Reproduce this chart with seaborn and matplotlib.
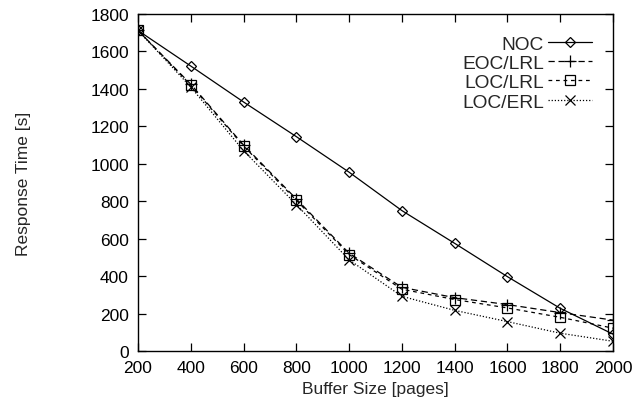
import matplotlib
matplotlib.use("Agg")
import matplotlib.pyplot as plt
import seaborn as sns
import pandas as pd

buffer_sizes = [200, 400, 600, 800, 1000, 1200, 1400, 1600, 1800, 2000]
noc = [1712, 1522, 1330, 1145, 955, 750, 575, 397, 228, 90]
eoc_lrl = [1712, 1425, 1100, 812, 522, 340, 285, 248, 205, 165]
loc_lrl = [1712, 1420, 1095, 805, 515, 330, 275, 230, 180, 122]
loc_erl = [1712, 1410, 1070, 782, 487, 292, 217, 157, 95, 52]
series_names = ["NOC", "EOC/LRL", "LOC/LRL", "LOC/ERL"]

sns.set_theme(style="ticks")
plt.rcParams['font.family'] = ['Liberation Sans', 'DejaVu Sans']

rows = []
for name, vals in zip(series_names, [noc, eoc_lrl, loc_lrl, loc_erl]):
    for x, y in zip(buffer_sizes, vals):
        rows.append({"Buffer": x, "Time": y, "Series": name})
df = pd.DataFrame(rows)

fig = plt.figure(figsize=(6.34, 4.06), dpi=100)
ax = fig.add_axes([138/634, 54/406, 475/634, 337/406])

styles = {
    "NOC": dict(ls="-", marker="D", ms=5.2),
    "EOC/LRL": dict(ls=(0, (5, 3)), marker="+", ms=8),
    "LOC/LRL": dict(ls=(0, (3, 3)), marker="s", ms=6.5),
    "LOC/ERL": dict(ls=(0, (1, 1.5)), marker="x", ms=7),
}
for name in series_names:
    st = styles[name]
    sub = df[df["Series"] == name]
    sns.lineplot(data=sub, x="Buffer", y="Time", ax=ax, color="black", lw=0.9,
                 linestyle=st["ls"], marker=st["marker"], markersize=st["ms"],
                 markerfacecolor="none", markeredgecolor="black", markeredgewidth=0.9,
                 label=name)

ax.set_xlim(200, 2000)
ax.set_ylim(0, 1800)
ax.set_xticks(buffer_sizes)
ax.set_yticks(range(0, 1801, 200))
ax.tick_params(direction="in", top=True, right=True, length=6, width=0.9,
               labelsize=12.5, colors="black", pad=6.5)
for s in ax.spines.values():
    s.set_color("black")
    s.set_linewidth(1.0)
ax.set_xlabel("Buffer Size [pages]", fontsize=12.5, labelpad=4)
ax.set_ylabel("Response Time [s]", fontsize=12.5)
ax.yaxis.set_label_coords((31 - 138) / 475, 0.5)

leg = ax.legend(loc="upper right", markerfirst=False, frameon=False, fontsize=13.8,
                handlelength=2.3, labelspacing=0.1, borderaxespad=0.7, handletextpad=0.2)
for t in leg.get_texts():
    t.set_ha("right")
leg._legend_box.align = "right"

fig.savefig("out.png", dpi=100)
